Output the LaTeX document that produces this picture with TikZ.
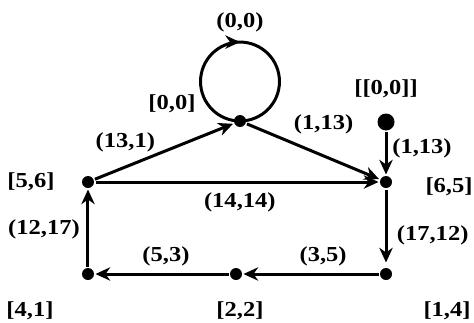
\documentclass[tikz,border=0pt]{standalone}
\usepackage{fontspec}
\setmainfont{Liberation Serif}[FakeStretch=1.15]
\usepackage{tikz}
\usetikzlibrary{arrows.meta, decorations.markings, positioning}
\tikzset{
    dot/.style={
        circle,
        fill=black,
        inner sep=0pt,
        minimum size=9pt,
    },
    bigdot/.style={
        circle,
        fill=black,
        inner sep=0pt,
        minimum size=12.75pt,
    },
    lab/.style={
        font=\fontsize{16}{19}\selectfont\bfseries,
        inner sep=0pt,
    },
    elab/.style={
        lab,
        anchor=center,
    },
    loopmark/.style={
        postaction={decorate},
        decoration={markings, mark=at position 0.5 with {\arrow{Stealth[length=11pt, width=10pt, inset=3.5pt]}}},
    },
}

\begin{document}
\begin{tikzpicture}[->, >={Stealth[length=11pt, width=10pt, inset=3.5pt]}, line width=2.25pt, node distance=2cm, on grid]
      \useasboundingbox (-66pt,-105pt) rectangle (289.5pt,136.5pt);

      \node[dot] (n56) at (0,0) {};
      \node[dot, right=223.5pt of n56] (n65) {};
      \node[dot, above right=45.75pt and 114pt of n56] (n00) {};
      \node[bigdot, above=45pt of n65] (src) {};
      \node[dot, below=69pt of n56] (n41) {};
      \node[dot, right=111pt of n41] (n22) {};
      \node[dot, below=69pt of n65] (n14) {};

      % vertex labels
      \node[lab, above left=12.75pt and 51pt of n00] (l00) {[0,0]};
      \node[lab, above=24.75pt of src] (lsrc) {[[0,0]]};
      \node[lab, left=42.75pt of n56] (l56) {[5,6]};
      \node[lab, below right=3.75pt and 47.25pt of n65] (l65) {[6,5]};
      \node[lab, below left=27.5pt and 43.5pt of n41] (l41) {[4,1]};
      \node[lab, below right=27.5pt and 3pt of n22] (l22) {[2,2]};
      \node[lab, below right=27.5pt and 45.75pt of n14] (l14) {[1,4]};

      \draw[-, loopmark] (n00) arc[start angle=270, end angle=-90, radius=29.6pt]
            node[elab, pos=0.5, yshift=15pt] {(0,0)};

      \draw (n56) edge node[elab, pos=0.22, yshift=18.75pt] {(13,1)} (n00);
      \draw (n00) edge node[elab, pos=0.58, yshift=23.5pt] {(1,13)} (n65);
      \draw (n56) edge node[elab, pos=0.51, yshift=-15pt] {(14,14)} (n65);
      \draw (src) edge node[elab, pos=0.38, xshift=27pt] {(1,13)} (n65);
      \draw (n65) edge[shorten >=3pt] node[elab, pos=0.6, xshift=35pt] {(17,12)} (n14);
      \draw (n14) edge node[elab, pos=0.41, yshift=13.5pt] {(3,5)} (n22);
      \draw (n22) edge node[elab, pos=0.47, yshift=13.5pt] {(5,3)} (n41);
      \draw (n41) edge node[elab, pos=0.48, xshift=-33pt] {(12,17)} (n56);
    \end{tikzpicture}
\end{document}
